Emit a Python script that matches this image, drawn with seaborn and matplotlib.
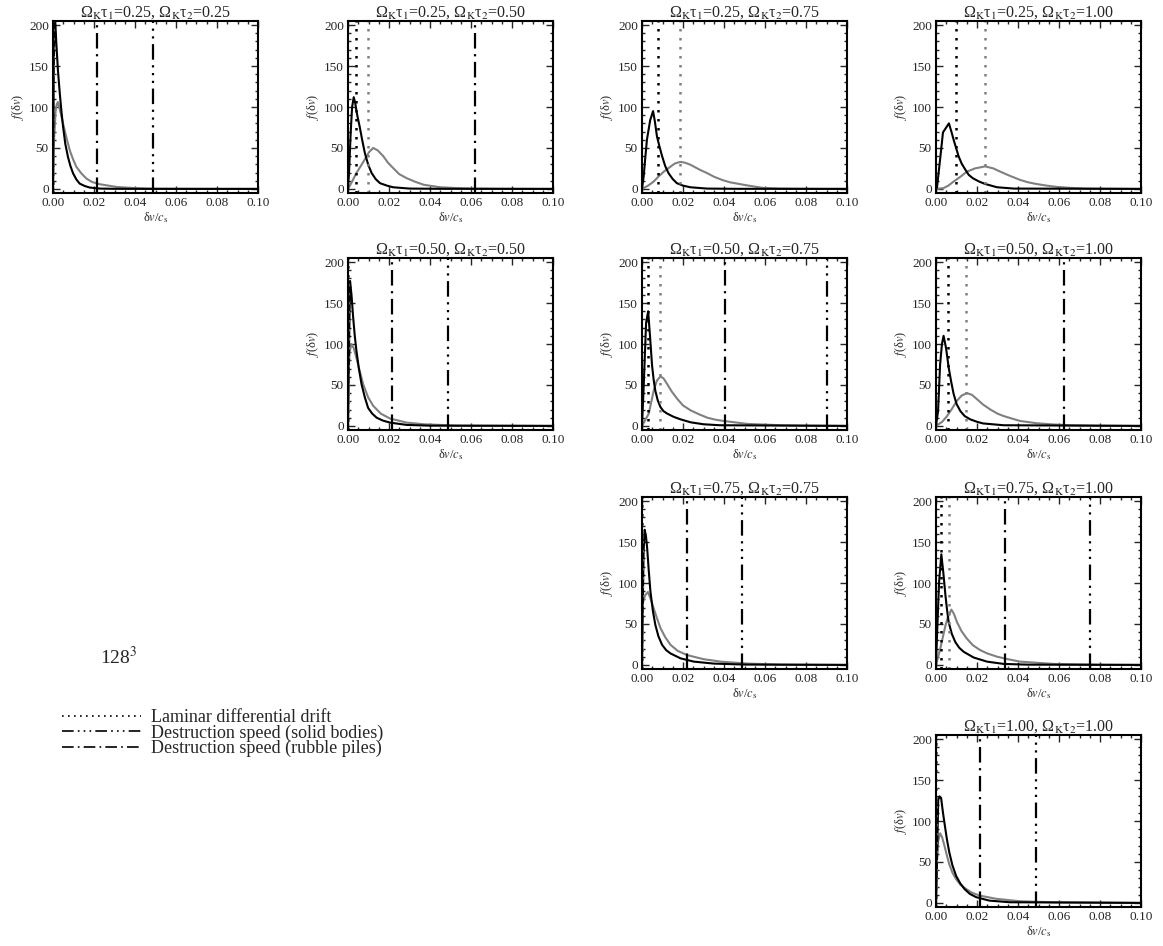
import numpy as np
import pandas as pd
import matplotlib
matplotlib.use("Agg")
import matplotlib.pyplot as plt
from matplotlib.lines import Line2D
from matplotlib.ticker import MultipleLocator
import seaborn as sns

# ---------------- data ----------------
tau1 = [0.25, 0.25, 0.25, 0.25, 0.50, 0.50, 0.50, 0.75, 0.75, 1.00]
tau2 = [0.25, 0.50, 0.75, 1.00, 0.50, 0.75, 1.00, 0.75, 1.00, 1.00]
grid_row = [0, 0, 0, 0, 1, 1, 1, 2, 2, 3]
grid_col = [0, 1, 2, 3, 1, 2, 3, 2, 3, 3]

drift_black = [0.0, 0.0038, 0.0076, 0.0099, 0.0, 0.0028, 0.0059, 0.0, 0.0026, 0.0]
drift_gray = [0.0, 0.0098, 0.0184, 0.0241, 0.0, 0.0087, 0.0146, 0.0, 0.0065, 0.0]
v_rubble = [0.0217, 0.062, np.nan, np.nan, 0.0213, 0.0404, 0.0623, 0.022, 0.0338, 0.0217]
v_solid = [0.0489, np.nan, np.nan, np.nan, 0.0487, 0.0904, np.nan, 0.049, 0.0753, 0.049]

# curves (black = component 1, gray = component 2)
dv_k_25_25 = [0, 0.0004, 0.0008, 0.0012, 0.0016, 0.0024, 0.0033, 0.0041, 0.0049, 0.006, 0.0073, 0.0085,
              0.0098, 0.0114, 0.013, 0.0155, 0.018, 0.0228, 0.03, 0.05, 0.1]
f_k_25_25 = [0, 150, 215, 200, 179, 145, 117, 95, 76, 55, 39, 28, 19, 11.5, 6.5, 3.5, 1.6, 0.4, 0.1, 0, 0]
dv_g_25_25 = [0, 0.0005, 0.0013, 0.0018, 0.0024, 0.0035, 0.0049, 0.0065, 0.0082, 0.0098, 0.0114, 0.0138,
              0.0163, 0.019, 0.0228, 0.031, 0.039, 0.047, 0.07, 0.1]
f_g_25_25 = [0, 60, 96, 103, 106, 95, 80, 63, 47, 36, 27, 19, 12.6, 8.5, 5.7, 2.4, 1.1, 0.4, 0.1, 0]

dv_k_25_50 = [0, 0.0005, 0.0013, 0.002, 0.0028, 0.0035, 0.0045, 0.0057, 0.0069, 0.0082, 0.0098, 0.0115,
              0.0135, 0.0156, 0.019, 0.022, 0.030, 0.045, 0.1]
f_k_25_50 = [0, 20, 68, 100, 112, 105, 90, 76, 60, 44, 30, 19.5, 12, 7, 4, 2, 0.4, 0.1, 0]
dv_g_25_50 = [0, 0.002, 0.004, 0.006, 0.0082, 0.0103, 0.0123, 0.0145, 0.0172, 0.0195, 0.022, 0.025,
              0.0287, 0.033, 0.037, 0.045, 0.053, 0.0615, 0.08, 0.1]
f_g_25_50 = [0, 9, 19, 27, 36, 45, 50, 47, 40, 32, 25.5, 18, 13, 8.5, 5, 2, 1, 0.4, 0.1, 0]

dv_k_25_75 = [0, 0.0008, 0.0016, 0.0024, 0.004, 0.0054, 0.0063, 0.0073, 0.0085, 0.0098, 0.0113, 0.013,
              0.015, 0.017, 0.02, 0.0236, 0.0317, 0.045, 0.1]
f_k_25_75 = [0, 15, 38, 60, 84, 95, 82, 64, 52, 40, 28, 19, 12, 7, 4, 2, 0.4, 0.1, 0]
dv_g_25_75 = [0, 0.003, 0.0057, 0.008, 0.0106, 0.0138, 0.016, 0.0187, 0.021, 0.0236, 0.0285, 0.032,
              0.035, 0.039, 0.043, 0.051, 0.059, 0.0675, 0.08, 0.1]
f_g_25_75 = [0, 4, 9, 15, 21, 27, 31, 33, 32, 29.5, 23, 19, 15, 11, 8, 4.4, 1.2, 0.4, 0.1, 0]

dv_k_25_100 = [0, 0.0005, 0.002, 0.0034, 0.0063, 0.0075, 0.0086, 0.0098, 0.011, 0.0125, 0.0143, 0.016,
               0.018, 0.021, 0.024, 0.0298, 0.038, 0.1]
f_k_25_100 = [0, 2, 36, 69, 80, 70, 60, 50, 40, 31, 23.5, 17, 13, 9, 6, 2, 0.4, 0]
dv_g_25_100 = [0, 0.0037, 0.006, 0.0086, 0.012, 0.015, 0.019, 0.024, 0.028, 0.0314, 0.036, 0.041,
               0.045, 0.049, 0.054, 0.059, 0.066, 0.074, 0.1]
f_g_25_100 = [0, 1, 4, 9, 15, 21, 25, 27.5, 25, 21, 16, 11, 8, 6, 4, 2.4, 1.2, 0.4, 0]

dv_k_50_50 = [0, 0.0003, 0.001, 0.0017, 0.0025, 0.0033, 0.0041, 0.0053, 0.0066, 0.0082, 0.0098, 0.0118,
              0.014, 0.017, 0.0205, 0.0287, 0.04, 0.1]
f_k_50_50 = [0, 60, 177, 160, 133, 110, 92, 70, 51, 35, 22, 15, 10, 6.5, 4, 1.2, 0.3, 0]
dv_g_50_50 = [0, 0.0003, 0.0008, 0.0016, 0.0028, 0.004, 0.0056, 0.0074, 0.0098, 0.0123, 0.016, 0.0205,
              0.0287, 0.037, 0.053, 0.1]
f_g_50_50 = [0, 63, 90, 100, 95, 84, 68, 51, 35, 24.5, 15, 9, 4, 2, 0.4, 0]

dv_k_50_75 = [0, 0.0008, 0.002, 0.003, 0.0039, 0.0049, 0.0057, 0.0065, 0.0077, 0.009, 0.0105, 0.0123,
              0.0155, 0.0188, 0.0237, 0.030, 0.038, 0.1]
f_k_50_75 = [0, 47, 126, 140, 110, 74, 56, 43, 31, 23, 18, 15, 11, 8, 4.4, 2, 0.8, 0]
dv_g_50_75 = [0, 0.0033, 0.0057, 0.0072, 0.009, 0.0105, 0.0123, 0.0145, 0.0172, 0.02, 0.0237, 0.028,
              0.0319, 0.036, 0.040, 0.0515, 0.068, 0.08, 0.1]
f_g_50_75 = [0, 15, 43, 55, 60.5, 58, 51, 42, 33, 25, 19, 14, 10, 7.5, 6, 2.4, 0.8, 0.3, 0]

dv_k_50_100 = [0, 0.001, 0.002, 0.0029, 0.0037, 0.0049, 0.0062, 0.0074, 0.0086, 0.01, 0.0119, 0.014,
               0.0167, 0.02, 0.023, 0.033, 0.1]
f_k_50_100 = [0, 18, 75, 100, 110, 95, 71, 54, 39, 27, 18, 12, 8, 5, 3, 0.8, 0]
dv_g_50_100 = [0, 0.003, 0.0054, 0.0078, 0.0102, 0.0125, 0.0151, 0.0175, 0.02, 0.023, 0.0265, 0.03,
               0.033, 0.037, 0.041, 0.049, 0.057, 0.0655, 0.08, 0.1]
f_g_50_100 = [0, 5, 12, 21, 30.6, 37, 40, 38, 32.6, 26, 20, 15, 12, 9, 6, 3.3, 1.8, 0.8, 0.2, 0]

dv_k_75_75 = [0, 0.0003, 0.0008, 0.0013, 0.0019, 0.0025, 0.0033, 0.0041, 0.0053, 0.0065, 0.008, 0.0098,
              0.0118, 0.0139, 0.0188, 0.0253, 0.035, 0.05, 0.1]
f_k_75_75 = [0, 60, 140, 165, 158, 143, 115, 90, 66, 49, 35, 24.5, 18, 14, 8, 4, 1.6, 0.4, 0]
dv_g_75_75 = [0, 0.0003, 0.0015, 0.0029, 0.0043, 0.0057, 0.0073, 0.009, 0.0113, 0.0139, 0.0175, 0.022,
              0.030, 0.0384, 0.0515, 0.068, 0.1]
f_g_75_75 = [0, 75, 85, 89, 80, 69, 57, 45, 34, 24.5, 17, 12, 7, 4, 1.6, 0.4, 0]

dv_k_75_100 = [0, 0.0005, 0.0015, 0.0026, 0.0036, 0.0046, 0.0054, 0.0062, 0.0077, 0.0094, 0.0113, 0.0135,
               0.0184, 0.0249, 0.033, 0.045, 0.1]
f_k_75_100 = [0, 36, 101, 135, 112, 85, 67, 52, 38, 28, 21, 16, 9, 4, 1.2, 0.3, 0]
dv_g_75_100 = [0, 0.0021, 0.0046, 0.006, 0.0075, 0.0088, 0.0102, 0.0125, 0.0151, 0.018, 0.0216, 0.025,
               0.0298, 0.035, 0.041, 0.0574, 0.08, 0.1]
f_g_75_100 = [0, 20, 48, 60, 67.5, 62, 52.5, 41, 32, 24, 18, 14, 10, 7, 4, 1.2, 0.2, 0]

dv_k_100_100 = [0, 0.0003, 0.0011, 0.0018, 0.0025, 0.0033, 0.0041, 0.0053, 0.0065, 0.008, 0.0098, 0.0118,
                0.0139, 0.0165, 0.0196, 0.026, 0.036, 0.1]
f_k_100_100 = [0, 29, 126, 130, 128, 112, 98, 78, 61.5, 46, 33, 24, 17, 11, 7, 2.8, 0.8, 0]
dv_g_100_100 = [0, 0.0003, 0.001, 0.002, 0.003, 0.0041, 0.0053, 0.0065, 0.008, 0.0098, 0.012, 0.0147,
                0.0175, 0.0212, 0.0294, 0.041, 0.057, 0.1]
f_g_100_100 = [0, 45, 75, 85, 80, 70, 58, 47, 37, 29, 22, 17, 12.5, 9, 5, 2, 0.8, 0]

curves_black = [(dv_k_25_25, f_k_25_25), (dv_k_25_50, f_k_25_50), (dv_k_25_75, f_k_25_75),
                (dv_k_25_100, f_k_25_100), (dv_k_50_50, f_k_50_50), (dv_k_50_75, f_k_50_75),
                (dv_k_50_100, f_k_50_100), (dv_k_75_75, f_k_75_75), (dv_k_75_100, f_k_75_100),
                (dv_k_100_100, f_k_100_100)]
curves_gray = [(dv_g_25_25, f_g_25_25), (dv_g_25_50, f_g_25_50), (dv_g_25_75, f_g_25_75),
               (dv_g_25_100, f_g_25_100), (dv_g_50_50, f_g_50_50), (dv_g_50_75, f_g_50_75),
               (dv_g_50_100, f_g_50_100), (dv_g_75_75, f_g_75_75), (dv_g_75_100, f_g_75_100),
               (dv_g_100_100, f_g_100_100)]

legend_labels = ["Laminar differential drift", "Destruction speed (solid bodies)",
                 "Destruction speed (rubble piles)"]
resolution_label = r"128$^3$"

# ---------------- style ----------------
sns.set_style("ticks")
plt.rcParams["font.family"] = ["Liberation Serif", "DejaVu Serif"]
plt.rcParams["mathtext.fontset"] = "stix"

GRAY = "#808080"
LS_DOT = (0, (1, 2.6))
LS_DASHDOT = (0, (7, 2.5, 1, 2.5))
LS_DASH3DOT = (0, (7, 2.5, 1, 2.5, 1, 2.5, 1, 2.5))

W, H = 1163, 946
fig = plt.figure(figsize=(W / 100, H / 100), dpi=100)

col_left = [53, 348, 642, 936]
row_top = [21, 258, 497, 735]
ax_w, ax_h = 205, 172

for i in range(len(tau1)):
    l = col_left[grid_col[i]]
    t = row_top[grid_row[i]]
    ax = fig.add_axes([l / W, 1 - (t + ax_h) / H, ax_w / W, ax_h / H])

    rows = []
    for kind, (xs, ys) in (("gray", curves_gray[i]), ("black", curves_black[i])):
        for xv, yv in zip(xs, ys):
            rows.append({"dv": xv, "f": yv, "kind": kind})
    df = pd.DataFrame(rows)
    sns.lineplot(data=df, x="dv", y="f", hue="kind", hue_order=["gray", "black"],
                 palette={"gray": GRAY, "black": "black"}, sort=False, estimator=None,
                 legend=False, lw=1.5, ax=ax)

    ax.axvline(drift_black[i], color="black", ls=LS_DOT, lw=1.8)
    ax.axvline(drift_gray[i], color=GRAY, ls=LS_DOT, lw=1.8)
    if not np.isnan(v_rubble[i]):
        ax.axvline(v_rubble[i], color="black", ls=LS_DASHDOT, lw=1.6)
    if not np.isnan(v_solid[i]):
        ax.axvline(v_solid[i], color="black", ls=LS_DASH3DOT, lw=1.6)

    ax.set_xlim(0, 0.1)
    ax.set_ylim(-5, 205)
    ax.set_xticks([0, 0.02, 0.04, 0.06, 0.08, 0.10])
    ax.set_xticklabels(["0.00", "0.02", "0.04", "0.06", "0.08", "0.10"])
    ax.set_yticks([0, 50, 100, 150, 200])
    ax.xaxis.set_minor_locator(MultipleLocator(0.005))
    ax.yaxis.set_minor_locator(MultipleLocator(10))
    ax.tick_params(which="both", direction="in", top=True, right=True, labelsize=9.5, pad=3)
    ax.tick_params(which="major", length=5, width=1)
    ax.tick_params(which="minor", length=2.5, width=1)
    for sp in ax.spines.values():
        sp.set_linewidth(1.5)
        sp.set_color("black")
    ax.set_xlabel(r"δ$v$/$c_{\rm s}$", fontsize=9, labelpad=1)
    ax.set_ylabel(r"$f$(δ$v$)", fontsize=9, labelpad=2)
    ax.set_title("Ω$_{\\rm K}$τ$_1$=%.2f, Ω$_{\\rm K}$τ$_2$=%.2f" % (tau1[i], tau2[i]),
                 fontsize=11.5, pad=2)

fig.text(100 / W, 1 - 657 / H, resolution_label, fontsize=14, va="center", ha="left")

handles = [Line2D([], [], color="black", ls=LS_DOT, lw=1.2),
           Line2D([], [], color="black", ls=LS_DASH3DOT, lw=1.2),
           Line2D([], [], color="black", ls=LS_DASHDOT, lw=1.2)]
fig.legend(handles, legend_labels, loc="center left", bbox_to_anchor=(62 / W, 1 - 733 / H),
           frameon=False, fontsize=13, handlelength=4.4, handletextpad=0.55,
           labelspacing=-0.1, borderpad=0, borderaxespad=0)

fig.savefig("out.png", dpi=100)
